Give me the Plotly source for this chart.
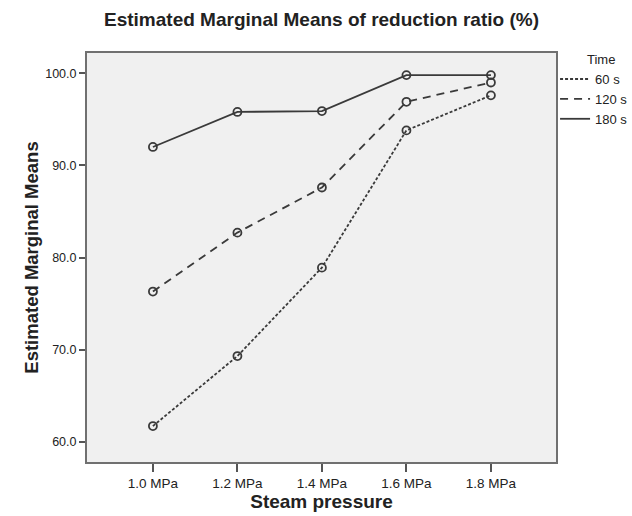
import plotly.graph_objects as go

pressure = ["1.0 MPa", "1.2 MPa", "1.4 MPa", "1.6 MPa", "1.8 MPa"]
time_labels = ["60 s", "120 s", "180 s"]
means_60 = [61.7, 69.3, 78.9, 93.8, 97.6]
means_120 = [76.3, 82.7, 87.6, 96.9, 99.0]
means_180 = [92.0, 95.8, 95.9, 99.8, 99.8]
y_ticks = [60, 70, 80, 90, 100]

series = [means_60, means_120, means_180]
dashes = ["3px,2px", "8px,6px", "solid"]
ink = "#3a3a3a"

fig = go.Figure()
for lab, vals, dsh in zip(time_labels, series, dashes):
    fig.add_trace(go.Scatter(
        x=pressure, y=vals, name=lab, mode="lines+markers", showlegend=False,
        line=dict(color=ink, width=1.8, dash=dsh),
        marker=dict(symbol="circle-open", size=8, color=ink,
                    line=dict(width=1.8, color=ink)),
    ))
# legend keys (line only, like the reference)
for lab, dsh in zip(time_labels, dashes):
    fig.add_trace(go.Scatter(
        x=[None], y=[None], name=lab, mode="lines", showlegend=True,
        line=dict(color=ink, width=1.8, dash=dsh),
    ))

fig.update_layout(
    width=632, height=516,
    margin=dict(l=87, r=76, t=53, b=54, autoexpand=False),
    paper_bgcolor="white", plot_bgcolor="#f0f0f0",
    font=dict(family="Liberation Sans, Arial, sans-serif", color="#222"),
    title=dict(text="<b>Estimated Marginal Means of reduction ratio (%)</b>",
               x=0.5, xanchor="center", xref="paper", y=0.962, yanchor="middle",
               font=dict(size=19, color="#222")),
    showlegend=True,
    legend=dict(x=0.998, xanchor="left", y=0.973, yanchor="top",
                bgcolor="rgba(0,0,0,0)", font=dict(size=13, color="#222"),
                itemwidth=30, tracegroupgap=0),
    annotations=[dict(text="Time", xref="paper", yref="paper", x=1.062, y=0.983,
                      xanchor="left", yanchor="middle", showarrow=False,
                      font=dict(size=13, color="#222"))],
)
fig.update_xaxes(
    type="category", range=[-0.78, 4.77],
    showline=True, mirror=True, linecolor="#707070", linewidth=2,
    ticks="outside", ticklen=8, tickcolor="#555", tickwidth=1.5,
    showgrid=False, zeroline=False,
    tickfont=dict(size=13.5, color="#222"),
    title=dict(text="<b>Steam pressure</b>", font=dict(size=19, color="#222"), standoff=4),
)
fig.update_yaxes(
    range=[57.8, 102.2], tickvals=y_ticks, ticktext=[f"{v:.1f}" for v in y_ticks],
    showline=True, mirror=True, linecolor="#707070", linewidth=2,
    ticks="outside", ticklen=6, tickcolor="#555", tickwidth=1.5,
    showgrid=False, zeroline=False,
    tickfont=dict(size=12.5, color="#222"),
    title=dict(text="<b>Estimated Marginal Means</b>", font=dict(size=18.5, color="#222"), standoff=2),
)

fig.write_html("out.html")
